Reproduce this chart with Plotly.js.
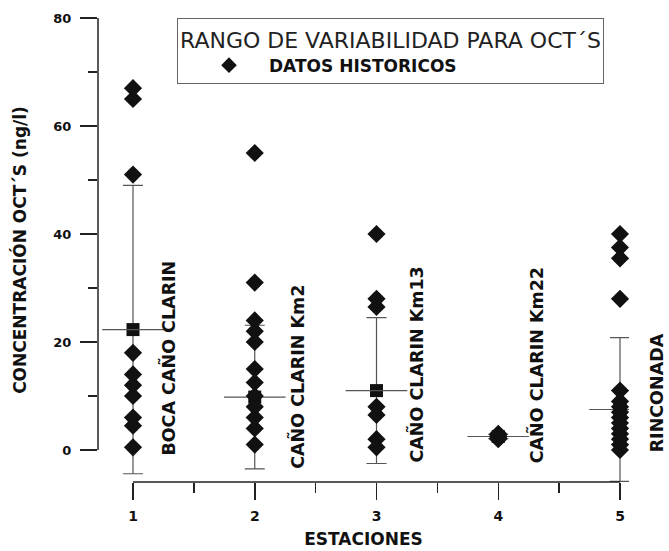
<!DOCTYPE html>
<html>
<head>
<meta charset="utf-8">
<script src="https://cdn.plot.ly/plotly-3.0.1.min.js"></script>
<style>
  html, body { margin: 0; padding: 0; background: #fff; }
  #chart { width: 669px; height: 551px; }
</style>
</head>
<body>
<div id="chart"></div>
<script>
// ---- data ----
const stations = [1, 2, 3, 4, 5];
const stationNames = ["BOCA CAÑO CLARIN", "CAÑO CLARIN Km2", "CAÑO CLARIN Km13", "CAÑO CLARIN Km22", "RINCONADA"];
const hist1 = [67, 65, 51, 18, 14, 12, 10, 6, 4.5, 0.5];
const hist2 = [55, 31, 24, 22, 20, 15, 12.5, 10, 8, 6, 4, 1];
const hist3 = [40, 28, 26.5, 8, 6.5, 2, 0.5];
const hist4 = [3, 2.5, 2.2, 2.8, 2];
const hist5 = [40, 37.5, 35.5, 28, 11, 9, 8, 7, 6, 5, 4, 3, 2, 1, 0];
const means = [22.3, 9.8, 11, 2.5, 7.5];
const sds = [26.7, 13.3, 13.5, 0.4, 13.3];
const yTicks = [0, 20, 40, 60, 80];
const xTitle = "ESTACIONES";
const yTitle = "CONCENTRACIÓN OCT´S (ng/l)";
const legendTitle = "RANGO DE VARIABILIDAD PARA OCT´S";
const seriesName = "DATOS HISTORICOS";

// ---- build traces ----
const histAll = [hist1, hist2, hist3, hist4, hist5];
const hx = [], hy = [];
histAll.forEach((arr, i) => arr.forEach(v => { hx.push(stations[i]); hy.push(v); }));

const FONT = "DejaVu Sans";
const INK = "#111";
const WHISK = "#555";

const meanTrace = {
  type: "scatter", mode: "markers", x: stations, y: means, showlegend: false,
  hoverinfo: "skip",
  marker: { symbol: "square", size: 13, color: INK },
  error_y: { type: "data", array: sds, visible: true, color: WHISK, thickness: 1.2, width: 10 }
};
const crossTrace = {
  type: "scatter", mode: "markers", x: stations, y: means, showlegend: false,
  hoverinfo: "skip",
  marker: { symbol: "line-ew", size: 44, color: WHISK, line: { color: WHISK, width: 1.2 } }
};
const histTrace = {
  type: "scatter", mode: "markers", x: hx, y: hy, name: seriesName,
  marker: { symbol: "diamond", size: 14, color: INK }
};

// ---- layout ----
const mL = 98, mR = 40, mT = 18, mB = 69, W = 669, H = 551;
const pxPerX = 121.75;   // spacing of stations in the reference
const xMin = stations[0] - 35 / pxPerX;
const xMax = stations[stations.length - 1] + (W - mR - 620) / pxPerX;
const pxPerY = 5.4;
const yMin = yTicks[0] - 32 / pxPerY;
const yMax = yTicks[yTicks.length - 1];
const plotW = W - mL - mR;

const labelOffsetsY = [-1.5, -3.9, -2.8, -2.8, -0.9];
const labelShift = [35, 42, 40, 38, 37];
const annotations = stationNames.map((t, i) => ({
  x: stations[i], y: labelOffsetsY[i], xref: "x", yref: "y",
  text: t, showarrow: false, textangle: -90,
  xanchor: "center", yanchor: "bottom", xshift: labelShift[i],
  font: { family: FONT, size: 17.5, color: INK, weight: "bold" }
}));

const layout = {
  width: W, height: H,
  margin: { l: mL, r: mR, t: mT, b: mB, pad: 0, autoexpand: false },
  paper_bgcolor: "#fff", plot_bgcolor: "#fff",
  font: { family: FONT, color: INK },
  showlegend: true,
  legend: {
    x: (177 - mL) / plotW, y: 1, xanchor: "left", yanchor: "top",
    bgcolor: "#fff", bordercolor: "#666", borderwidth: 1,
    title: { text: legendTitle, side: "top", font: { family: FONT, size: 22, color: "#222", weight: "normal" } },
    font: { family: FONT, size: 17, color: INK, weight: "bold" },
    itemwidth: 70, indentation: 11, itemsizing: "constant"
  },
  xaxis: {
    range: [xMin, xMax], tickmode: "linear", tick0: 1, dtick: 1,
    showgrid: false, zeroline: false, showline: false,
    ticks: "outside", ticklen: 17, tickwidth: 1.5, tickcolor: "#222",
    minor: { dtick: 0.5, tick0: 0, ticks: "outside", ticklen: 10, tickwidth: 1.5, tickcolor: "#222", showgrid: false },
    tickfont: { family: FONT, size: 14, color: INK, weight: "bold" },
    ticklabelstandoff: 4,
    title: { text: xTitle, standoff: 10, font: { family: FONT, size: 17, color: INK, weight: "bold" } }
  },
  yaxis: {
    range: [yMin, yMax], tickmode: "linear", tick0: 0, dtick: 20,
    showgrid: false, zeroline: false, showline: false,
    ticks: "outside", ticklen: 17, tickwidth: 1.5, tickcolor: "#222",
    minor: { dtick: 10, tick0: 0, ticks: "outside", ticklen: 9, tickwidth: 1.5, tickcolor: "#222", showgrid: false },
    tickfont: { family: FONT, size: 13, color: INK, weight: "bold" },
    ticklabelstandoff: 6,
    title: { text: yTitle, standoff: 22, font: { family: FONT, size: 17, color: INK, weight: "bold" } }
  },
  shapes: [
    { type: "line", xref: "paper", yref: "y", x0: 0, x1: 0, y0: yTicks[0], y1: yTicks[yTicks.length - 1], line: { color: "#222", width: 1.5 } },
    { type: "line", xref: "x", yref: "paper", x0: stations[0], x1: stations[stations.length - 1], y0: 0, y1: 0, line: { color: "#222", width: 1.5 } }
  ],
  annotations: annotations
};

Plotly.newPlot("chart", [meanTrace, crossTrace, histTrace], layout, { displayModeBar: false, staticPlot: true });
</script>
</body>
</html>
